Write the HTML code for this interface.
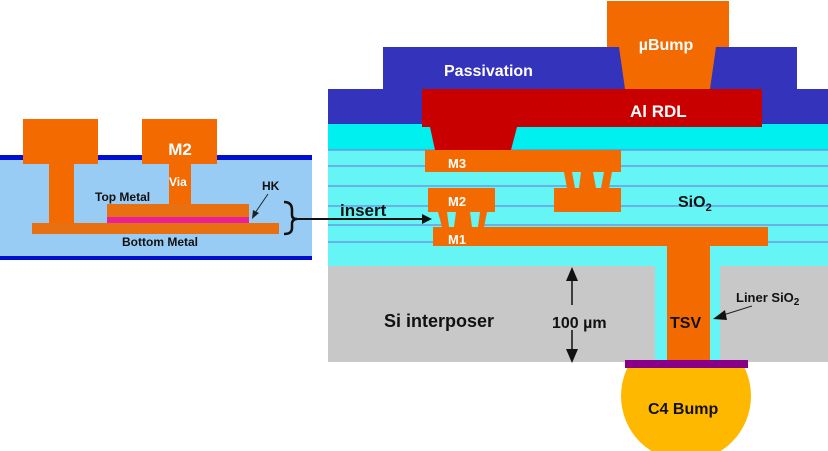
<!DOCTYPE html>
<html><head><meta charset="utf-8"><style>
html,body{margin:0;padding:0;background:#fff;}
svg{display:block;}
text{font-family:"Liberation Sans",Arial,sans-serif;font-weight:bold;}
</style></head><body>
<svg width="828" height="451" viewBox="0 0 828 451" xmlns="http://www.w3.org/2000/svg">
<!-- LEFT INSERT -->
<rect x="0" y="155" width="312" height="105" fill="#99ccf5"/>
<rect x="0" y="155" width="312" height="5" fill="#0010d0"/>
<rect x="0" y="256" width="312" height="4" fill="#0010d0"/>
<rect x="23" y="119" width="75" height="45" fill="#f26a00"/>
<rect x="49" y="164" width="25" height="60" fill="#f26a00"/>
<rect x="142" y="119" width="75" height="45" fill="#f26a00"/>
<rect x="169" y="164" width="22" height="41" fill="#f26a00"/>
<rect x="32" y="223" width="247" height="11" fill="#e87010"/>
<rect x="107" y="204" width="142" height="13" fill="#e87010"/>
<rect x="107" y="217" width="142" height="6" fill="#e8209a"/>
<text x="180" y="155" fill="#fff" font-size="17" text-anchor="middle">M2</text>
<text x="169" y="186" fill="#fff" font-size="12">Via</text>
<text x="95" y="201" fill="#111" font-size="12">Top Metal</text>
<text x="122" y="246" fill="#111" font-size="12">Bottom Metal</text>
<text x="262" y="190" fill="#111" font-size="12">HK</text>
<line x1="268" y1="194" x2="255" y2="213" stroke="#222" stroke-width="1"/>
<polygon points="252,219 253,210 259,213" fill="#222"/>
<path d="M284,202 Q292,202 292,210 L292,215 Q292,219 297,219 Q292,219 292,224 L292,228 Q292,234 284,234" fill="none" stroke="#111" stroke-width="2.5"/>

<!-- RIGHT -->
<circle cx="686" cy="396" r="65" fill="#ffb800"/>
<rect x="328" y="124" width="500" height="26" fill="#00f0f0"/>
<rect x="328" y="150" width="500" height="116" fill="#66f5f5"/>
<g stroke="#6a8ae0" stroke-width="1.2">
<line x1="328" y1="150" x2="828" y2="150"/>
<line x1="328" y1="166" x2="828" y2="166"/>
<line x1="328" y1="186" x2="828" y2="186"/>
<line x1="328" y1="206" x2="828" y2="206"/>
<line x1="328" y1="225" x2="828" y2="225"/>
<line x1="328" y1="242" x2="828" y2="242"/>
</g>
<polygon points="383,47 797,47 797,89 828,89 828,124 328,124 328,89 383,89" fill="#3333bb"/>
<rect x="422" y="89" width="340" height="38" fill="#c80000"/>
<polygon points="430,127 517,127 511,150 435,150" fill="#c80000"/>
<rect x="607" y="1" width="122" height="46" fill="#f26a00"/>
<polygon points="619,47 716,47 710,89 625,89" fill="#f26a00"/>
<text x="666" y="50" fill="#fff" font-size="16" text-anchor="middle">µBump</text>
<text x="444" y="76" fill="#fff" font-size="16">Passivation</text>
<text x="630" y="117" fill="#fff" font-size="17">Al RDL</text>
<!-- M3 -->
<rect x="425" y="150" width="196" height="22" fill="#f26a00"/>
<text x="448" y="168" fill="#fff" font-size="13">M3</text>
<polygon points="564,172 612,172 609,188 567,188" fill="#f26a00"/>
<polygon points="572,172 581,172 579,188 575,188" fill="#66f5f5"/>
<polygon points="593,172 604,172 601,188 596,188" fill="#66f5f5"/>
<rect x="554" y="188" width="67" height="24" fill="#f26a00"/>
<!-- M2 -->
<rect x="428" y="188" width="67" height="24" fill="#f26a00"/>
<text x="448" y="206" fill="#fff" font-size="13">M2</text>
<polygon points="438,212 487,212 484,227 442,227" fill="#f26a00"/>
<polygon points="447,212 456,212 454,227 449,227" fill="#66f5f5"/>
<polygon points="470,212 480,212 478,227 472,227" fill="#66f5f5"/>
<!-- M1 -->
<rect x="433" y="227" width="335" height="19" fill="#f26a00"/>
<text x="448" y="244" fill="#fff" font-size="13">M1</text>
<text x="678" y="207" fill="#111" font-size="16">SiO<tspan font-size="11" dy="4">2</tspan></text>
<!-- insert arrow -->
<line x1="297" y1="219" x2="424" y2="219" stroke="#111" stroke-width="2"/>
<polygon points="432,219 422,214 422,224" fill="#111"/>
<text x="340" y="216" fill="#111" font-size="17">insert</text>
<!-- Si -->
<rect x="328" y="266" width="327" height="96" fill="#c8c8c8"/>
<rect x="720" y="266" width="108" height="96" fill="#c8c8c8"/>
<rect x="655" y="246" width="65" height="116" fill="#66f5f5"/>
<rect x="667" y="243" width="43" height="120" fill="#f26a00"/>
<text x="384" y="327" fill="#111" font-size="18">Si interposer</text>
<text x="552" y="328" fill="#111" font-size="16">100 µm</text>
<line x1="572" y1="276" x2="572" y2="305" stroke="#111" stroke-width="1.5"/>
<line x1="572" y1="330" x2="572" y2="354" stroke="#111" stroke-width="1.5"/>
<polygon points="572,267 566,281 578,281" fill="#111"/>
<polygon points="572,363 566,349 578,349" fill="#111"/>
<text x="670" y="328" fill="#111" font-size="16">TSV</text>
<text x="736" y="302" fill="#111" font-size="13">Liner SiO<tspan font-size="10" dy="3">2</tspan></text>
<line x1="752" y1="306" x2="720" y2="316" stroke="#222" stroke-width="1"/>
<polygon points="713,319 725,310 727,320" fill="#111"/>
<rect x="625" y="360" width="123" height="8" fill="#880088"/>
<text x="648" y="414" fill="#111" font-size="16">C4 Bump</text>
</svg>
</body></html>
